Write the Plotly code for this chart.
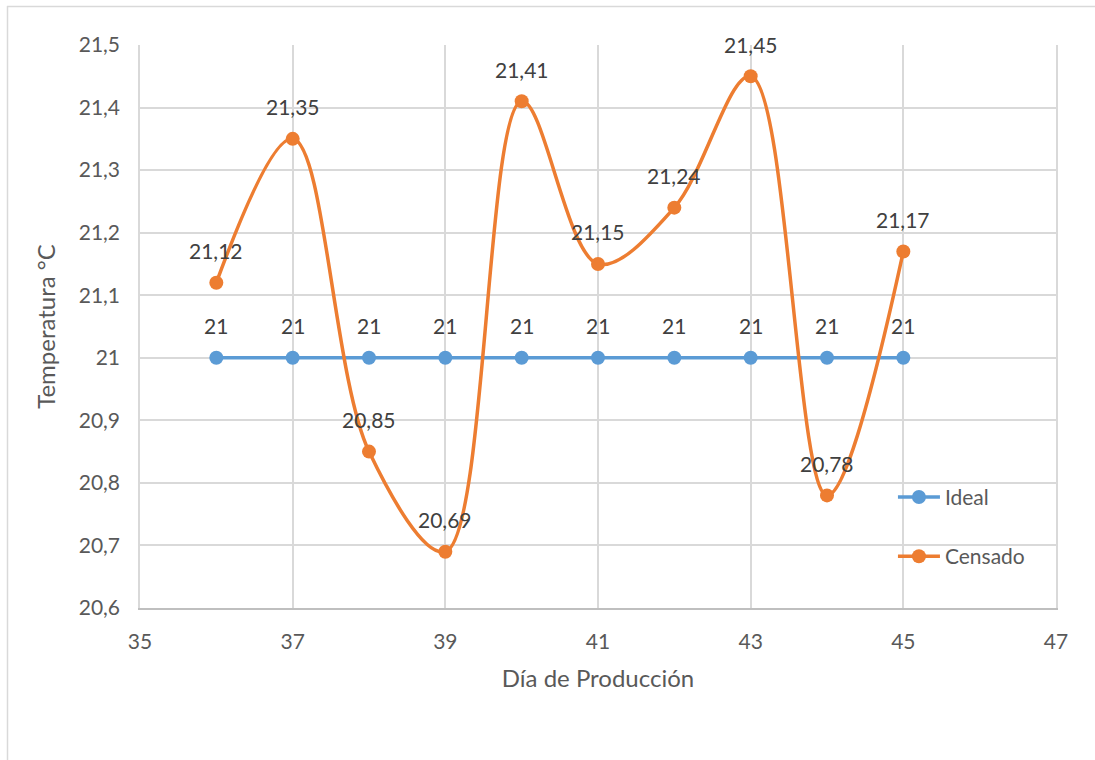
import plotly.graph_objects as go

# Production days and temperatures
dias = [36, 37, 38, 39, 40, 41, 42, 43, 44, 45]
ideal = [21, 21, 21, 21, 21, 21, 21, 21, 21, 21]
censado = [21.12, 21.35, 20.85, 20.69, 21.41, 21.15, 21.24, 21.45, 20.78, 21.17]

y_ticks = [20.6, 20.7, 20.8, 20.9, 21.0, 21.1, 21.2, 21.3, 21.4, 21.5]
y_tick_labels = ["20,6", "20,7", "20,8", "20,9", "21", "21,1", "21,2", "21,3", "21,4", "21,5"]
x_ticks = [35, 37, 39, 41, 43, 45, 47]

AZUL = "#5B9BD5"
NARANJA = "#ED7D31"
FONT = "Lato"


def etiqueta(v):
    return f"{v:g}".replace(".", ",")


fig = go.Figure()
fig.add_trace(go.Scatter(
    x=dias, y=ideal, name="Ideal", mode="lines+markers",
    line=dict(color=AZUL, width=3.5),
    marker=dict(color=AZUL, size=14),
    legendgroup="a",
))
fig.add_trace(go.Scatter(
    x=dias, y=censado, name="Censado", mode="lines+markers",
    line=dict(color=NARANJA, width=3.5, shape="spline", smoothing=1),
    marker=dict(color=NARANJA, size=14),
    legendgroup="b",
))

annotations = []
for serie in (ideal, censado):
    for x, v in zip(dias, serie):
        annotations.append(dict(
            x=x, y=v, xref="x", yref="y", text=etiqueta(v),
            showarrow=False, yshift=32,
            font=dict(family=FONT, size=21, color="#404040"),
        ))

# outer chart frame (left and top edges visible)
shapes = [
    dict(type="line", xref="paper", yref="paper",
         x0=(7 - 140) / 916, x1=(1100 - 140) / 916,
         y0=(608 - 6.5) / 563, y1=(608 - 6.5) / 563,
         line=dict(color="#D9D9D9", width=1.5)),
    dict(type="line", xref="paper", yref="paper",
         x0=(7.5 - 140) / 916, x1=(7.5 - 140) / 916,
         y0=(608 - 6) / 563, y1=(608 - 770) / 563,
         line=dict(color="#D9D9D9", width=1.5)),
]

fig.update_layout(
    width=1095, height=760,
    margin=dict(l=140, r=39, t=45, b=152),
    paper_bgcolor="white", plot_bgcolor="white",
    font=dict(family=FONT, size=21, color="#595959"),
    showlegend=True,
    legend=dict(
        x=0.822, y=0.233, xanchor="left", yanchor="top",
        bgcolor="rgba(0,0,0,0)", tracegroupgap=29,
        traceorder="grouped", itemwidth=42,
        font=dict(family=FONT, size=21, color="#595959"),
    ),
    annotations=annotations,
    shapes=shapes,
    xaxis=dict(
        range=[35, 47], tickvals=x_ticks, ticktext=[str(t) for t in x_ticks],
        showgrid=True, gridcolor="#D9D9D9", gridwidth=1.5,
        showline=True, linecolor="#BFBFBF", linewidth=2,
        zeroline=False, ticks="", ticklabelstandoff=14,
        tickfont=dict(family=FONT, size=21, color="#595959"),
        title=dict(text="Día de Producción", standoff=18,
                   font=dict(family=FONT, size=24, color="#595959")),
    ),
    yaxis=dict(
        range=[20.6, 21.5], tickvals=y_ticks, ticktext=y_tick_labels,
        showgrid=True, gridcolor="#D9D9D9", gridwidth=1.5,
        showline=True, linecolor="#D9D9D9", linewidth=1.5, mirror=True,
        zeroline=False, ticks="", ticklabelstandoff=14,
        tickfont=dict(family=FONT, size=21, color="#595959"),
        title=dict(text="Temperatura °C", standoff=16,
                   font=dict(family=FONT, size=24, color="#595959")),
    ),
)

fig.write_html("out.html")
